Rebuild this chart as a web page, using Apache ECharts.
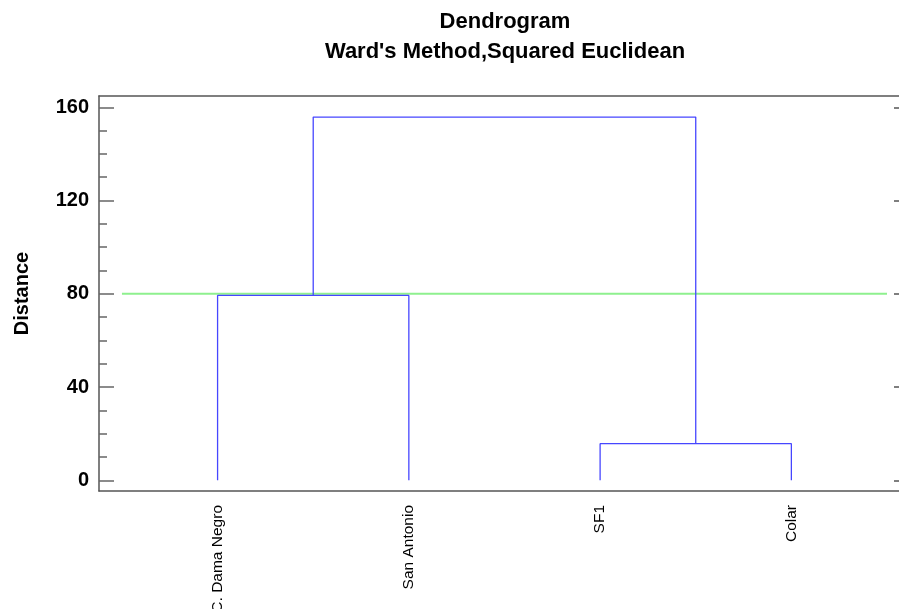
<!DOCTYPE html>
<html>
<head>
<meta charset="utf-8">
<script src="https://cdn.jsdelivr.net/npm/echarts@6/dist/echarts.min.js"></script>
<style>html,body{margin:0;padding:0;background:#fff}#c{width:899px;height:609px}</style>
</head>
<body>
<div id="c"></div>
<script>
// ---- data ----
const leaves = ['C. Dama Negro', 'San Antonio', 'SF1', 'Colar'];
const leafPositions = [1, 2, 3, 4];
// merges: nodes 0-3 are leaves, 4.. are merges in order
const mergeChildA = [0, 2, 4];
const mergeChildB = [1, 3, 5];
const mergeHeights = [79.3, 15.7, 155.8];
const cutoffValue = 80;
const yTickLabels = [0, 40, 80, 120, 160];
const yMinorTicks = [10, 20, 30, 50, 60, 70, 90, 100, 110, 130, 140, 150];

// ---- build node positions ----
const nodeX = leafPositions.slice();
const nodeH = leaves.map(() => 0);
const segs = [];
for (let i = 0; i < mergeHeights.length; i++) {
  const a = mergeChildA[i], b = mergeChildB[i], h = mergeHeights[i];
  segs.push([[nodeX[a], nodeH[a]], [nodeX[a], h], [nodeX[b], h], [nodeX[b], nodeH[b]]]);
  nodeX.push((nodeX[a] + nodeX[b]) / 2);
  nodeH.push(h);
}

const FONT = '"Liberation Sans", Arial, sans-serif';
const axisCol = '#555';
const blue = '#4646ff';

const series = segs.map(d => ({
  type: 'line', data: d, showSymbol: false, symbol: 'none', silent: true,
  lineStyle: { color: blue, width: 1.3 }, xAxisIndex: 0, yAxisIndex: 0, z: 3, animation: false
}));
series.push({
  type: 'line', data: [[0.5, cutoffValue], [4.5, cutoffValue]], showSymbol: false, symbol: 'none',
  lineStyle: { color: '#8ef08e', width: 2 }, xAxisIndex: 0, yAxisIndex: 0, z: 2, animation: false
});

const yMin = -4.6, yMax = 164.85;

const option = {
  animation: false,
  backgroundColor: '#fff',
  title: {
    text: 'Dendrogram\nWard\'s Method,Squared Euclidean',
    left: 500, top: 2, textAlign: 'center',
    textStyle: { fontFamily: FONT, fontSize: 22, fontWeight: 'bold', color: '#000', lineHeight: 30 }
  },
  grid: { left: 99, top: 96, width: 810, height: 395, containLabel: false, outerBoundsMode: 'none' },
  xAxis: [{
    type: 'value', min: 0.38, max: 4.615, position: 'bottom',
    axisLine: { show: true, onZero: false, lineStyle: { color: axisCol, width: 1.5 } },
    axisTick: { show: false },
    splitLine: { show: false },
    axisLabel: {
      customValues: leafPositions, rotate: 90, margin: 14,
      fontFamily: FONT, fontSize: 15.5, color: '#000',
      formatter: v => leaves[leafPositions.indexOf(Math.round(v))] || ''
    }
  }, {
    type: 'value', min: 0.38, max: 4.615, position: 'top',
    axisLine: { show: true, onZero: false, lineStyle: { color: axisCol, width: 1.5 } },
    axisTick: { show: false }, axisLabel: { show: false }, splitLine: { show: false }
  }],
  yAxis: [{
    type: 'value', min: yMin, max: yMax, position: 'left',
    name: 'Distance', nameLocation: 'middle', nameGap: 67, nameRotate: 90,
    nameTextStyle: { fontFamily: FONT, fontSize: 20, fontWeight: 'bold', color: '#000' },
    axisLine: { show: true, onZero: false, lineStyle: { color: axisCol, width: 1.5 } },
    axisTick: { show: true, inside: true, length: 15, customValues: yTickLabels, lineStyle: { color: '#666', width: 1.5 } },
    axisLabel: { customValues: yTickLabels, margin: 10, fontFamily: FONT, fontSize: 20, fontWeight: 'bold', color: '#000' },
    splitLine: { show: false }
  }, {
    type: 'value', min: yMin, max: yMax, position: 'left',
    axisLine: { show: false, onZero: false },
    axisTick: { show: true, inside: true, length: 8, customValues: yMinorTicks, lineStyle: { color: '#666', width: 1.5 } },
    axisLabel: { show: false }, splitLine: { show: false }
  }, {
    type: 'value', min: yMin, max: yMax, position: 'right',
    axisLine: { show: true, onZero: false, lineStyle: { color: axisCol, width: 1.5 } },
    axisTick: { show: true, inside: true, length: 15, customValues: yTickLabels, lineStyle: { color: '#555', width: 1.5 } },
    axisLabel: { show: false }, splitLine: { show: false }
  }],
  series: series
};

const chart = echarts.init(document.getElementById('c'), null, { renderer: 'canvas' });
chart.setOption(option);
</script>
</body>
</html>
